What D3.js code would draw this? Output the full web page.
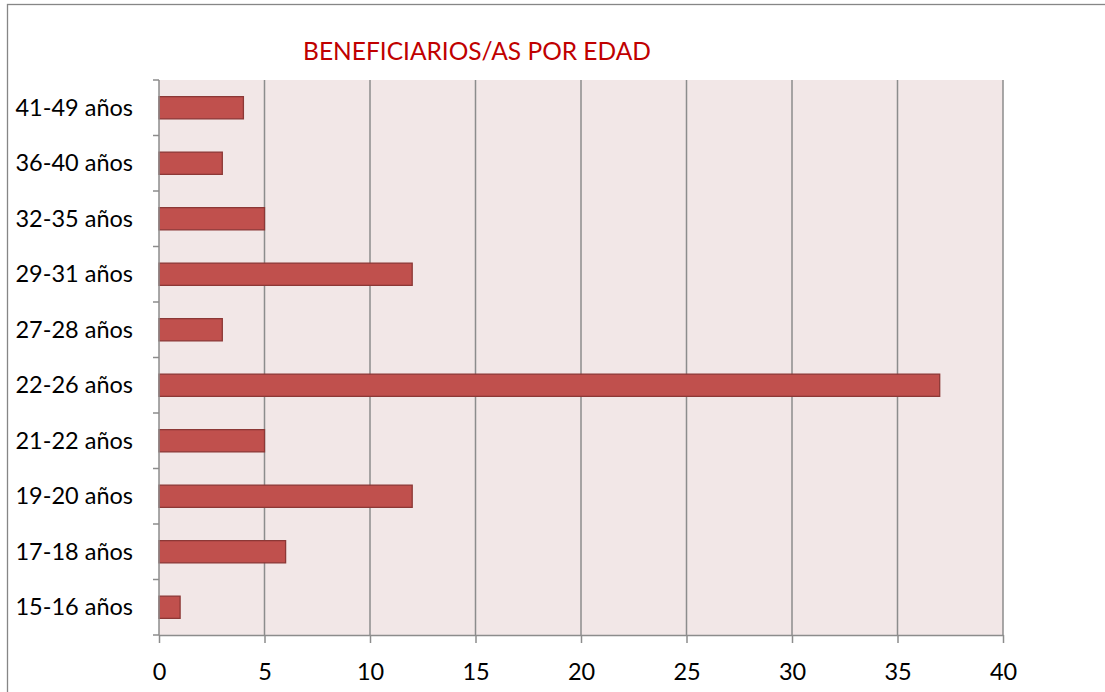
<!DOCTYPE html>
<html><head><meta charset="utf-8">
<script src="https://cdn.jsdelivr.net/npm/d3@7"></script>
<style>body{margin:0;background:#fff;} text{font-family:Lato,"Open Sans",sans-serif;}</style>
</head><body>
<svg id="c" width="1105" height="692"></svg>
<script>
const categories = ["41-49 años","36-40 años","32-35 años","29-31 años","27-28 años","22-26 años","21-22 años","19-20 años","17-18 años","15-16 años"];
const values = [4,3,5,12,3,37,5,12,6,1];
const xTicks = [0,5,10,15,20,25,30,35,40];
const title = "BENEFICIARIOS/AS POR EDAD";

const svg = d3.select("#c");
const m = {left:159, top:80, right:1003, bottom:635};
svg.append("rect").attr("x",7.5).attr("y",4.5).attr("width",1110).attr("height",700)
  .attr("fill","#fff").attr("stroke","#868686").attr("stroke-width",1.3);

const x = d3.scaleLinear().domain([0,40]).range([m.left,m.right]);
const y = d3.scaleBand().domain(categories).range([m.top,m.bottom]).paddingInner(0.6).paddingOuter(0.3);
const yb = d3.scaleBand().domain(categories).range([m.top,m.bottom]);

svg.append("rect").attr("x",m.left).attr("y",m.top).attr("width",m.right-m.left).attr("height",m.bottom-m.top).attr("fill","#f2e7e7");

svg.append("g").selectAll("line").data(xTicks.filter(d=>d>0)).join("line")
  .attr("x1",d=>x(d)).attr("x2",d=>x(d)).attr("y1",m.top).attr("y2",m.bottom)
  .attr("stroke","#8c8c8c").attr("stroke-width",1.5);

svg.append("g").selectAll("rect").data(values).join("rect")
  .attr("x",x(0)).attr("y",(d,i)=>y(categories[i])).attr("width",d=>x(d)-x(0)).attr("height",y.bandwidth())
  .attr("fill","#c0504d").attr("stroke","#8c3836").attr("stroke-width",1.3);

// x axis
const xa = svg.append("g").attr("transform",`translate(0,${m.bottom})`)
  .call(d3.axisBottom(x).tickValues(xTicks).tickSize(8).tickPadding(20).tickSizeOuter(0));
xa.select(".domain").attr("stroke","#8c8c8c").attr("stroke-width",1.5);
xa.selectAll(".tick line").attr("stroke","#8c8c8c").attr("stroke-width",1.5);
xa.selectAll("text").attr("font-size",23.5).attr("fill","#000");

// y axis
const ya = svg.append("g").attr("transform",`translate(${m.left},0)`);
ya.append("line").attr("x1",0).attr("x2",0).attr("y1",m.top).attr("y2",m.bottom).attr("stroke","#8c8c8c").attr("stroke-width",1.5);
const bounds = categories.map(c=>yb(c)).concat([m.bottom]);
ya.selectAll("line.t").data(bounds).join("line").attr("class","t")
  .attr("x1",-6).attr("x2",0).attr("y1",d=>d).attr("y2",d=>d).attr("stroke","#8c8c8c").attr("stroke-width",1.5);
ya.selectAll("text").data(categories).join("text")
  .attr("x",-26).attr("y",d=>yb(d)+yb.bandwidth()/2).attr("dy","0.35em")
  .attr("text-anchor","end").attr("font-size",23.5).attr("fill","#000").text(d=>d);

svg.append("text").attr("x",477).attr("y",60).attr("text-anchor","middle")
  .attr("font-size",24.5).attr("fill","#c00000").text(title);
</script>
</body></html>
